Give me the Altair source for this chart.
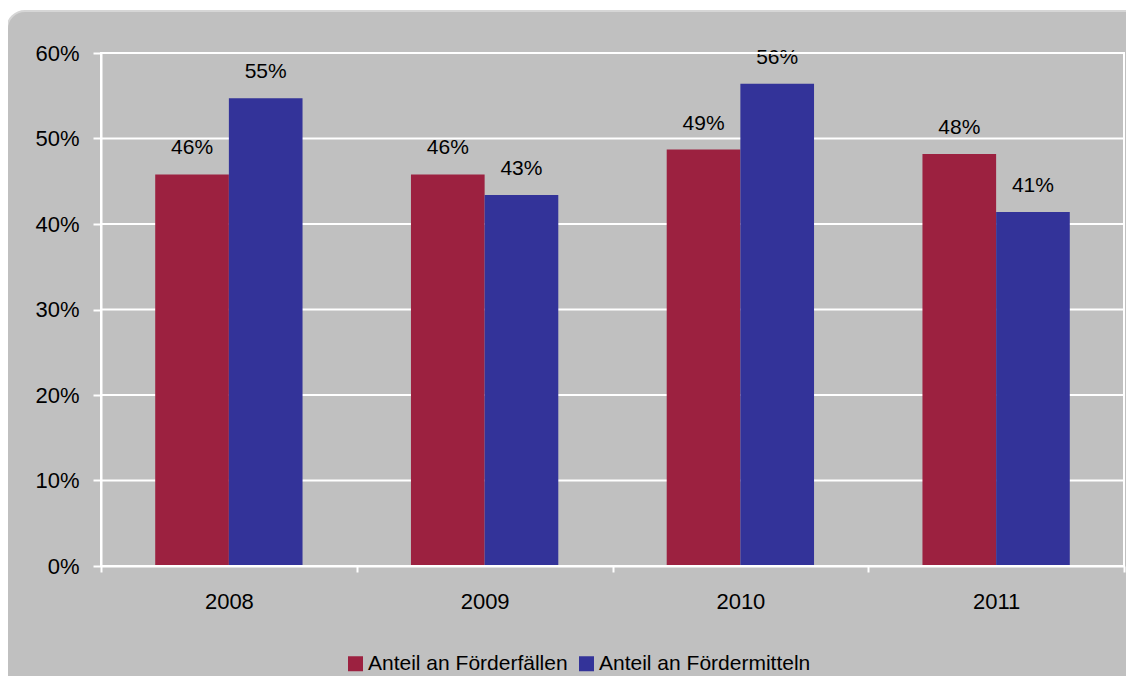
import altair as alt
import pandas as pd

years = ["2008", "2009", "2010", "2011"]
series = ["Anteil an Förderfällen", "Anteil an Fördermitteln"]
faelle = [0.458, 0.458, 0.487, 0.482]
mittel = [0.547, 0.434, 0.564, 0.414]
colors = ["#9C2140", "#333399"]
y_ticks = [0, 0.1, 0.2, 0.3, 0.4, 0.5, 0.6]

rows = []
for i, yr in enumerate(years):
    rows.append({"Jahr": yr, "Serie": series[0], "Wert": faelle[i]})
    rows.append({"Jahr": yr, "Serie": series[1], "Wert": mittel[i]})
df = pd.DataFrame(rows)
grid_df = pd.DataFrame({"v": y_ticks})
one = pd.DataFrame({"k": [0]})

W, H = 1023, 513
FONT = "Liberation Sans"

x_enc = alt.X(
    "Jahr:N",
    sort=years,
    scale=alt.Scale(paddingInner=0, paddingOuter=0),
    axis=alt.Axis(
        title=None, labelAngle=0, tickBand="extent", tickSize=6, tickColor="white",
        tickWidth=2, domainColor="white", domainWidth=2, labelFontSize=22,
        labelPadding=19, labelColor="black", grid=False, zindex=1, labelFont=FONT,
    ),
)
xo_enc = alt.XOffset("Serie:N", sort=series, scale=alt.Scale(paddingInner=0, paddingOuter=0.736))
y_enc = alt.Y(
    "Wert:Q",
    scale=alt.Scale(domain=[0, 0.6], nice=False),
    axis=alt.Axis(
        title=None, format=".0%", values=y_ticks, tickSize=8, tickColor="white",
        tickWidth=2, domainColor="white", domainWidth=2, grid=False,
        labelFontSize=22, labelPadding=14, labelColor="black", zindex=1, labelFont=FONT,
    ),
)

bg = alt.Chart(one).mark_rect(
    cornerRadius=18, fill="#C0C0C0", stroke="#D6D6D6", strokeWidth=2
).encode(
    x=alt.value(-94), x2=alt.value(W + 40), y=alt.value(-42), y2=alt.value(H + 160)
)

grid = alt.Chart(grid_df).mark_rule(color="white", strokeWidth=2).encode(
    y=alt.Y("v:Q", scale=alt.Scale(domain=[0, 0.6], nice=False))
)

bars = alt.Chart(df).mark_bar().encode(
    x=x_enc,
    xOffset=xo_enc,
    y=y_enc,
    color=alt.Color(
        "Serie:N",
        sort=series,
        scale=alt.Scale(domain=series, range=colors),
        legend=alt.Legend(
            title=None, orient="none", legendX=244, legendY=600, direction="horizontal",
            symbolType="square", symbolSize=225, symbolStrokeWidth=0,
            labelFontSize=21, labelOffset=2, columnPadding=8, labelColor="black",
            labelFont=FONT, labelLimit=0, zindex=1,
        ),
    ),
)

labels = alt.Chart(df).mark_text(
    dy=-26, fontSize=21, font=FONT, color="black"
).encode(
    x=alt.X("Jahr:N", sort=years),
    xOffset=alt.XOffset("Serie:N", sort=series),
    y=alt.Y("Wert:Q"),
    text=alt.Text("Wert:Q", format=".0%"),
)

border = alt.Chart(one).mark_rect(fill=None, stroke="white", strokeWidth=2).encode(
    x=alt.value(0), x2=alt.value(W), y=alt.value(0), y2=alt.value(H)
)

chart = alt.layer(bg, grid, bars, labels, border).properties(
    width=W,
    height=H,
    autosize=alt.AutoSizeParams(type="none"),
    padding={"left": 93, "top": 45, "right": 2, "bottom": 110},
    background="white",
).configure_view(stroke=None).configure(font=FONT)

chart.save("out.html", embed_options={"renderer": "svg", "actions": False})
